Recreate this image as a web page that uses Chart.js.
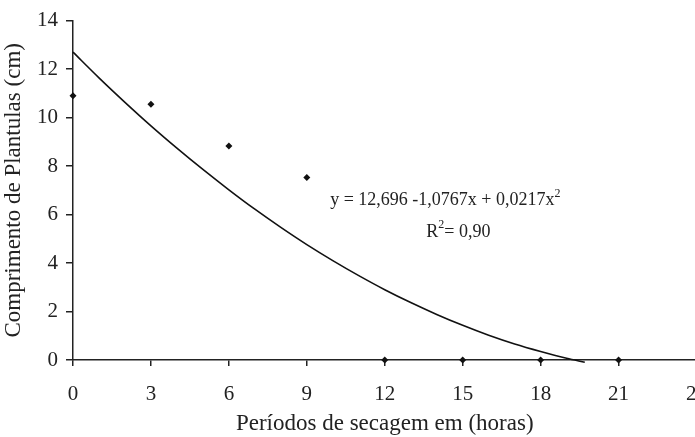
<!DOCTYPE html>
<html><head><meta charset="utf-8">
<script src="https://cdn.jsdelivr.net/npm/chart.js@4/dist/chart.umd.min.js"></script>
<style>
html,body{margin:0;padding:0;background:#fff;overflow:hidden;}
#wrap{width:723px;height:437px;position:relative;}
</style></head>
<body><div id="wrap"><canvas id="c"></canvas></div>
<script>
const xTicks = [0, 3, 6, 9, 12, 15, 18, 21, 24];
const yTicks = [0, 2, 4, 6, 8, 10, 12, 14];
const hours = [0, 3, 6, 9, 12, 15, 18, 21];
const lengthCm = [10.9, 10.55, 8.83, 7.53, 0, 0, 0, 0];
const curveX = [0, 1, 2, 3, 4, 5, 6, 7, 8, 9, 10, 11, 12, 13, 14, 15, 16, 17, 18, 19, 19.7];
const curveY = [12.70, 11.64, 10.63, 9.66, 8.74, 7.86, 7.02, 6.22, 5.47, 4.76, 4.10, 3.48, 2.90, 2.37, 1.88, 1.43, 1.02, 0.66, 0.35, 0.07, -0.09];
const xTitle = 'Períodos de secagem em (horas)';
const yTitle = 'Comprimento de Plantulas (cm)';
const eqText = 'y = 12,696 -1,0767x + 0,0217x';
const r2Text = '= 0,90';

const serif = '"Liberation Serif", "Times New Roman", serif';

const eqPlugin = {
  id: 'eq',
  afterDatasetsDraw(chart) {
    const ctx = chart.ctx, xs = chart.scales.x, ys = chart.scales.y;
    ctx.save();
    ctx.fillStyle = '#222';
    ctx.textBaseline = 'middle';
    ctx.textAlign = 'left';
    ctx.font = '18px ' + serif;
    let px = xs.getPixelForValue(9.9), py = ys.getPixelForValue(6.57);
    ctx.fillText(eqText, px, py);
    const w = ctx.measureText(eqText).width;
    ctx.font = '12px ' + serif;
    ctx.fillText('2', px + w, py - 7);
    // R2
    ctx.font = '18px ' + serif;
    let rx = xs.getPixelForValue(13.6), ry = ys.getPixelForValue(5.27);
    ctx.fillText('R', rx, ry);
    const rw = ctx.measureText('R').width;
    ctx.font = '12px ' + serif;
    ctx.fillText('2', rx + rw, ry - 7);
    const sw = ctx.measureText('2').width;
    ctx.font = '18px ' + serif;
    ctx.fillText(r2Text, rx + rw + sw, ry);
    ctx.restore();
  }
};

new Chart(document.getElementById('c'), {
  type: 'scatter',
  data: {
    datasets: [
      {
        type: 'line',
        data: curveX.map((x, i) => ({x: x, y: curveY[i]})),
        borderColor: '#111',
        borderWidth: 1.6,
        pointRadius: 0,
        cubicInterpolationMode: 'monotone',
        fill: false,
        clip: false
      },
      {
        data: hours.map((x, i) => ({x: x, y: lengthCm[i]})),
        backgroundColor: '#111',
        borderColor: '#111',
        pointStyle: 'rectRot',
        pointRadius: 3.5,
        borderWidth: 0,
        clip: false
      }
    ]
  },
  options: {
    responsive: true,
    maintainAspectRatio: false,
    animation: false,
    events: [],
    layout: {padding: {left: 0, top: 15, right: 23, bottom: 0}},
    plugins: {legend: {display: false}, tooltip: {enabled: false}},
    scales: {
      x: {
        type: 'linear', min: 0, max: 24,
        afterBuildTicks: s => { s.ticks = xTicks.map(v => ({value: v})); },
        afterFit: s => { s.height = 77; },
        ticks: {color: '#222', font: {family: serif, size: 21}, padding: 16, maxRotation: 0},
        grid: {display: true, drawOnChartArea: false, drawTicks: true, tickLength: 6, color: '#222', lineWidth: 1.5},
        border: {display: true, color: '#222', width: 1.5},
        title: {display: true, text: xTitle, color: '#222', font: {family: serif, size: 23}, padding: {top: 0, bottom: -1}}
      },
      y: {
        type: 'linear', min: 0, max: 14,
        afterBuildTicks: s => { s.ticks = yTicks.map(v => ({value: v})); },
        afterFit: s => { s.width = 73; },
        ticks: {color: '#222', font: {family: serif, size: 21}, padding: 8},
        grid: {display: true, drawOnChartArea: false, drawTicks: true, tickLength: 7, color: '#222', lineWidth: 1.5},
        border: {display: true, color: '#222', width: 1.5},
        title: {display: true, text: yTitle, color: '#222', font: {family: serif, size: 23}, padding: {top: 0, bottom: 6}}
      }
    }
  },
  plugins: [eqPlugin]
});
</script>
</body></html>
